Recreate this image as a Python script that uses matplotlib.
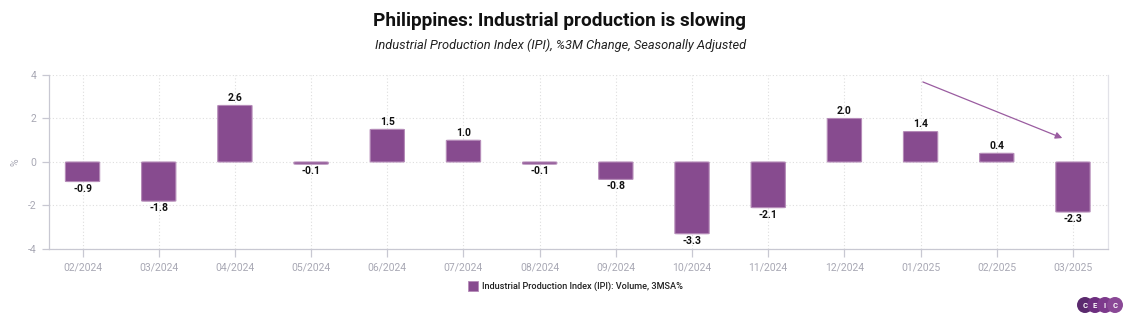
import matplotlib
matplotlib.use("Agg")
import matplotlib.pyplot as plt
from matplotlib.patches import FancyBboxPatch, Circle, Rectangle
import numpy as np

plt.rcParams['font.family'] = ['Roboto', 'DejaVu Sans']

months = ["02/2024", "03/2024", "04/2024", "05/2024", "06/2024", "07/2024", "08/2024",
          "09/2024", "10/2024", "11/2024", "12/2024", "01/2025", "02/2025", "03/2025"]
ipi_3m = [-0.9, -1.8, 2.6, -0.1, 1.5, 1.0, -0.1, -0.8, -3.3, -2.1, 2.0, 1.4, 0.4, -2.3]
y_ticks = [-4, -2, 0, 2, 4]

bar_color = "#874b8f"
edge_color = "#b58bb8"
grid_color = "#dedede"
tick_color = "#a8a8b4"

fig = plt.figure(figsize=(11.32, 3.21), dpi=100)
ax = fig.add_axes([0.0433, 0.2243, 0.9355, 0.5421])

x = np.arange(len(months))
width = 0.45
for xi, v in zip(x, ipi_3m):
    y0 = min(0, v)
    h = abs(v)
    patch = FancyBboxPatch((xi - width / 2, y0), width, h,
                           boxstyle="round,pad=0,rounding_size=0.04",
                           mutation_aspect=0.3,
                           facecolor=bar_color, edgecolor=edge_color, linewidth=0.8,
                           zorder=3)
    ax.add_patch(patch)
    if v >= 0:
        ax.annotate(f"{v:.1f}", (xi, v), xytext=(0, 1.5), textcoords="offset points",
                    ha="center", va="bottom", fontsize=7.5, fontweight="bold",
                    color="#111111", zorder=4)
    else:
        ax.annotate(f"{v:.1f}", (xi, v), xytext=(0, -1.5), textcoords="offset points",
                    ha="center", va="top", fontsize=7.5, fontweight="bold",
                    color="#111111", zorder=4)

ax.set_xlim(-0.44, 13.46)
ax.set_ylim(-4, 4)
ax.set_xticks(x)
ax.set_xticklabels(months)
ax.set_yticks(y_ticks)
ax.set_yticklabels([str(t) for t in y_ticks])

ax.grid(True, color=grid_color, linestyle=(0, (1, 2)), linewidth=0.8, zorder=0)
ax.set_axisbelow(True)

ax.spines["top"].set_visible(False)
ax.spines["left"].set_color("#c8c8d2")
ax.spines["bottom"].set_color("#c8c8d2")
ax.spines["right"].set_color("#e2e2e8")
for side in ["left", "bottom", "right"]:
    ax.spines[side].set_linewidth(0.9)

ax.tick_params(axis="x", colors="#c8c8d2", labelcolor=tick_color, labelsize=7.5,
               length=6, width=0.9, pad=4)
ax.tick_params(axis="y", colors="#c8c8d2", labelcolor=tick_color, labelsize=7.5,
               length=5, width=0.9, pad=4)

ax.set_ylabel("%", color=tick_color, fontsize=7.5, labelpad=5)

# trend arrow
ax.annotate("", xy=(12.86, 1.1), xytext=(11.03, 3.68),
            arrowprops=dict(arrowstyle="-|>", color="#9a5ca0", lw=0.9,
                            mutation_scale=10, shrinkA=0, shrinkB=0),
            zorder=5)

fig.text(0.4945, 0.935, "Philippines: Industrial production is slowing",
         ha="center", va="center", fontsize=13.7, fontweight="bold", color="#111111")
fig.text(0.4955, 0.858, "Industrial Production Index (IPI), %3M Change, Seasonally Adjusted",
         ha="center", va="center", fontsize=9.3, fontstyle="italic", color="#222222")

# legend
fig.patches.append(Rectangle((468 / 1132, 1 - 291 / 321), 10 / 1132, 10 / 321,
                             transform=fig.transFigure, facecolor=bar_color,
                             edgecolor=edge_color, linewidth=0.6))
fig.text(482 / 1132, 1 - 286 / 321, "Industrial Production Index (IPI): Volume, 3MSA%",
         ha="left", va="center", fontsize=6.6, fontweight="medium", color="#222222")

# brand mark
logo_ax = fig.add_axes([1076 / 1132, 1 - 314 / 321, 48 / 1132, 18 / 321])
logo_ax.set_xlim(0, 48)
logo_ax.set_ylim(0, 18)
logo_ax.set_aspect("equal")
logo_ax.axis("off")
logo_cols = ["#5b2a6e", "#6e2f80", "#7d3a8c", "#8a4896"]
for i, (ch, col) in enumerate(zip("CEIC", logo_cols)):
    cx = 9 + i * 10
    logo_ax.add_patch(Circle((cx, 9), 8, facecolor=col, edgecolor="none", zorder=i))
    logo_ax.text(cx, 9, ch, ha="center", va="center", color="white",
                 fontsize=5.5, fontweight="bold", zorder=10)

fig.savefig("out.png", dpi=100)
